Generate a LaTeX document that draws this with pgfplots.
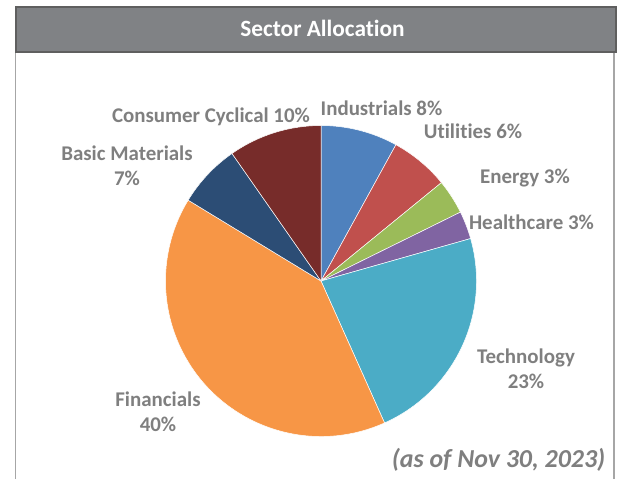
\documentclass[border=0pt]{standalone}
\usepackage{pgfplots}
\pgfplotsset{compat=1.18}
\usepackage{pgfplotstable}
\usepackage{fontspec}
\setmainfont{Carlito}[Ligatures=NoCommon]

\definecolor{cInd}{HTML}{4F81BD}
\definecolor{cUti}{HTML}{C0504D}
\definecolor{cEne}{HTML}{9BBB59}
\definecolor{cHea}{HTML}{8064A2}
\definecolor{cTec}{HTML}{4BACC6}
\definecolor{cFin}{HTML}{F79646}
\definecolor{cBas}{HTML}{2C4D75}
\definecolor{cCon}{HTML}{772C2A}
\definecolor{labgray}{HTML}{7F7F7F}
\definecolor{barfill}{HTML}{808285}
\definecolor{barline}{HTML}{5F5F5F}
\definecolor{boxline}{HTML}{A6A6A6}

% sector shares (percent), clockwise from 12 o'clock
\pgfplotstableread{
sector value color
Industrials 8.0 cInd
Utilities 6.1 cUti
Energy 3.6 cEne
Healthcare 2.9 cHea
Technology 22.7 cTec
Financials 40.4 cFin
BasicMaterials 6.6 cBas
ConsumerCyclical 9.7 cCon
}\sectortable

\newcommand\labfont{\bfseries\fontsize{21}{25}\selectfont}

\begin{document}
\begin{tikzpicture}
\gdef\curang{90}
\foreach \i in {0,...,7}{%
  \pgfplotstablegetelem{\i}{value}\of\sectortable
  \pgfmathsetmacro\nextang{\curang-3.6*\pgfplotsretval}%
  \expandafter\xdef\csname sa\i\endcsname{\curang}%
  \expandafter\xdef\csname se\i\endcsname{\nextang}%
  \pgfplotstablegetelem{\i}{color}\of\sectortable
  \expandafter\xdef\csname sc\i\endcsname{\pgfplotsretval}%
  \xdef\curang{\nextang}%
}
\begin{axis}[
  width=619bp, height=479bp, scale only axis,
  xmin=0, xmax=619, ymin=0, ymax=479,
  hide axis, clip=false,
]
\path (axis cs:0,0) rectangle (axis cs:619,479);
% frame
\draw[boxline, line width=1.5bp] (axis cs:15.5,0) -- (axis cs:15.5,437);
\draw[boxline, line width=1.5bp] (axis cs:614,0) -- (axis cs:614,429);
\filldraw[fill=barfill, draw=barline, line width=2bp] (axis cs:16,427) rectangle (axis cs:616,472);
\node[text=white, font=\bfseries\fontsize{23.4}{26}\selectfont] at (axis cs:322.5,450.5) {Sector Allocation};
% pie
\pgfplotsinvokeforeach{0,...,7}{%
  \edef\temp{\noexpand\fill[\csname sc#1\endcsname, draw=white, line width=0.5pt]
    (axis cs:321,198) -- ++(\csname sa#1\endcsname:155.5bp)
    arc[start angle=\csname sa#1\endcsname, end angle=\csname se#1\endcsname, radius=155.5bp] -- cycle;}%
  \temp
}
% labels
\node[text=labgray, font=\labfont] at (axis cs:211,362) {Consumer Cyclical 10\%};
\node[text=labgray, font=\labfont] at (axis cs:381.5,371) {Industrials 8\%};
\node[text=labgray, font=\labfont] at (axis cs:473,348) {Utilities 6\%};
\node[text=labgray, font=\labfont] at (axis cs:525,301) {Energy 3\%};
\node[text=labgray, font=\labfont] at (axis cs:531.5,257) {Healthcare 3\%};
\node[text=labgray, font=\labfont, align=center] at (axis cs:526,110.5) {Technology\\23\%};
\node[text=labgray, font=\labfont, align=center] at (axis cs:158,67) {Financials\\40\%};
\node[text=labgray, font=\labfont, align=center] at (axis cs:127,313.5) {Basic Materials\\7\%};
\node[text=labgray, font=\bfseries\itshape\fontsize{26}{30}\selectfont] at (axis cs:498.5,19) {(as of Nov 30, 2023)};
\end{axis}
\end{tikzpicture}
\end{document}
